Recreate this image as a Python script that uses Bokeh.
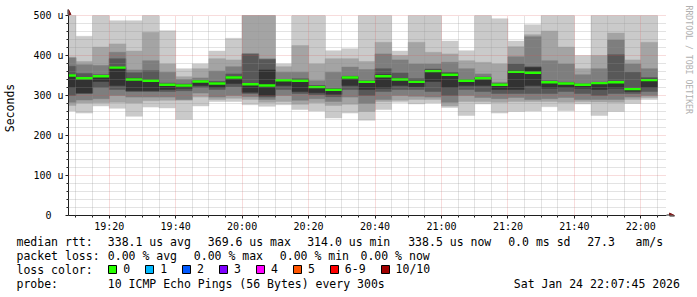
from datetime import datetime
from math import pi

from bokeh.plotting import figure
from bokeh.models import (Range1d, FixedTicker, DatetimeTickFormatter,
                          Label, Arrow, NormalHead, Legend, LegendItem, ColumnDataSource)
from bokeh.embed import file_html
from bokeh.resources import INLINE

# ---------------- data (microseconds) ----------------
slot_start = ["19:05", "19:10", "19:15", "19:20", "19:25", "19:30", "19:35", "19:40", "19:45",
              "19:50", "19:55", "20:00", "20:05", "20:10", "20:15", "20:20", "20:25", "20:30",
              "20:35", "20:40", "20:45", "20:50", "20:55", "21:00", "21:05", "21:10", "21:15",
              "21:20", "21:25", "21:30", "21:35", "21:40", "21:45", "21:50", "21:55", "22:00"]

# sorted ping round-trip times per 5-minute slot (ping1 = fastest ... ping10 = slowest)
ping1 = [261, 256, 274, 268, 248, 271, 269, 240, 274, 285, 285, 277, 273, 277, 265, 261, 244, 256,
         238, 265, 283, 279, 281, 270, 250, 279, 256, 260, 261, 272, 262, 279, 250, 260, 280, 290]
ping2 = [275, 281, 282, 283, 281, 287, 288, 288, 296, 290, 293, 290, 283, 285, 278, 282, 275, 278,
         260, 285, 288, 290, 290, 274, 285, 285, 283, 285, 285, 285, 283, 285, 284, 283, 290, 295]
ping3 = [283, 289, 292, 300, 296, 296, 296, 290, 306, 296, 300, 297, 290, 300, 288, 292, 285, 296,
         280, 290, 300, 298, 296, 283, 300, 295, 292, 295, 290, 292, 295, 290, 290, 290, 296, 300]
ping4 = [300, 305, 320, 315, 310, 310, 310, 312, 320, 315, 322, 305, 296, 315, 305, 302, 297, 315,
         300, 310, 315, 315, 310, 300, 315, 310, 305, 305, 305, 305, 310, 305, 300, 305, 305, 310]
ping5 = [320, 306, 335, 325, 312, 312, 315, 318, 325, 320, 330, 308, 300, 325, 310, 307, 303, 325,
         315, 318, 325, 322, 335, 320, 325, 325, 315, 315, 325, 318, 320, 318, 315, 318, 310, 320]
ping6 = [352, 345, 350, 370, 343, 340, 328, 327, 336, 333, 347, 330, 364, 339, 340, 323, 316, 346,
         335, 352, 342, 336, 363, 355, 338, 344, 328, 362, 370, 335, 331, 328, 332, 335, 318, 341]
ping7 = [373, 355, 352, 392, 357, 362, 331, 329, 337, 335, 354, 403, 390, 340, 342, 325, 317, 348,
         337, 367, 356, 342, 366, 358, 340, 346, 330, 379, 372, 337, 333, 329, 333, 402, 358, 345]
ping8 = [394, 377, 375, 408, 364, 387, 358, 340, 344, 361, 372, 405, 392, 358, 358, 337, 358, 371,
         365, 404, 389, 379, 379, 383, 367, 354, 333, 397, 447, 387, 379, 352, 367, 439, 379, 367]
ping9 = [396, 385, 421, 429, 411, 458, 379, 347, 367, 392, 389, 500, 500, 372, 425, 379, 392, 392,
         385, 433, 400, 433, 408, 404, 387, 383, 379, 422, 452, 461, 421, 367, 400, 456, 389, 433]
ping10 = [500, 448, 500, 487, 487, 500, 462, 367, 379, 411, 443, 500, 500, 379, 500, 500, 412, 417,
          500, 500, 411, 500, 500, 436, 412, 500, 492, 436, 477, 500, 500, 400, 500, 500, 500, 500]
median = [350, 343, 348, 369.6, 340, 337, 327, 325, 335, 330, 345, 328, 325, 338, 337, 321, 314.0, 345,
          334, 348, 340, 334, 361, 352, 337, 343, 327, 359, 357, 333, 330, 327, 331, 333, 316, 338.5]
loss = [0, 0, 0, 0, 0, 0, 0, 0, 0, 0, 0, 0, 0, 0, 0, 0, 0, 0,
        0, 0, 0, 0, 0, 0, 0, 0, 0, 0, 0, 0, 0, 0, 0, 0, 0, 0]

loss_labels = ["0", "1", "2", "3", "4", "5", "6-9", "10/10"]
loss_colors = ["#26ff00", "#00b8ff", "#0059ff", "#7e00ff", "#ff00ff", "#ff5500", "#ff0000", "#a10000"]

y_ticks = [0, 100, 200, 300, 400, 500]
y_minor = [20, 40, 60, 80, 120, 140, 160, 180, 220, 240, 260, 280, 320, 340, 360, 380,
           420, 440, 460, 480]
y_tick_labels = ["0\u00a0\u00a0", "100 u", "200 u", "300 u", "400 u", "500 u"]
x_major = ["19:20", "19:40", "20:00", "20:20", "20:40", "21:00", "21:20", "21:40", "22:00"]

# (vertical centre of line in px, [(left x in px, text), ...])
legend_lines = [
    (241, [(16, "median rtt:"), (107.3, "338.1 us avg"), (207.3, "369.6 us max"),
           (306.7, "314.0 us min"), (407.7, "338.5 us now"), (507.7, "0.0 ms sd"),
           (586.7, "27.3"), (635, "am/s")]),
    (255, [(16, "packet loss:"), (107.3, "0.00 % avg"), (193.3, "0.00 % max"),
           (279.3, "0.00 % min"), (360, "0.00 % now")]),
    (269, [(16, "loss color:")]),
    (283.5, [(16, "probe:"), (107.3, "10 ICMP Echo Pings (56 Bytes) every 300s"),
             (513.3, "Sat Jan 24 22:07:45 2026")]),
]

# ---------------- helpers ----------------
def t(hhmm, sec=0):
    h, m = map(int, hhmm.split(":"))
    return (datetime(2026, 1, 24, h, m, sec) - datetime(1970, 1, 1)).total_seconds() * 1000.0

W = 697
H1, H2 = 235, 62          # chart part / statistics part
FL, FB = 66, 215          # frame left / bottom (px); frame reaches top and right edge
MS_PER_PX = 18000.0       # 3 hours over 600 px
U_PER_PX = 2.5            # 500 u over 200 px
X0, X1 = t("19:07", 45), t("22:07", 45)
STEP = 5 * 60 * 1000

def sx(px):
    return X0 + (px - FL) * MS_PER_PX

def sy(py):
    return (FB - py) * U_PER_PX

FONT = "DejaVu Sans Mono"
LEG_SIZE = "11.5px"

p = figure(width=W, height=H1, output_backend="svg", toolbar_location=None, title=None,
           x_range=Range1d(X0, sx(W)), y_range=Range1d(0, sy(0)),
           min_border_left=FL, min_border_right=0, min_border_top=0,
           min_border_bottom=H1 - FB)
p.outline_line_color = None
p.background_fill_color = "white"
p.border_fill_color = "white"

# ---------------- smoke ----------------
starts = [t(s) for s in slot_start]
ends = [v + STEP for v in starts]
pings = [ping1, ping2, ping3, ping4, ping5, ping6, ping7, ping8, ping9, ping10]
data = dict(left=[max(v, X0) for v in starts], right=ends)
for i, pv in enumerate(pings):
    data[f"p{i + 1}"] = pv
src = ColumnDataSource(data)

band_colors = ["#cacaca", "#a4a4a4", "#7e7e7e", "#585858", "#323232"]
for k in range(5):
    p.quad(left="left", right="right", bottom=f"p{k + 1}", top=f"p{10 - k}", source=src,
           fill_color=band_colors[k], line_color=band_colors[k], line_width=0.5)

# ---------------- median, coloured by loss ----------------
def bucket(l):
    if l <= 5:
        return l
    if l < 10:
        return 6
    return 7

MW = 3.0
for b, col in enumerate(loss_colors):
    idx = [i for i, l in enumerate(loss) if bucket(l) == b]
    if idx:
        ms = ColumnDataSource(dict(left=[max(starts[i], X0) for i in idx],
                                   right=[ends[i] for i in idx],
                                   bottom=[median[i] - MW for i in idx],
                                   top=[median[i] + MW for i in idx]))
        p.quad(left="left", right="right", bottom="bottom", top="top", source=ms,
               fill_color=col, line_color=None)

# ---------------- axes & grid ----------------
xt = FixedTicker(ticks=[t(s) for s in x_major],
                 minor_ticks=[v for v in ends if v not in [t(s) for s in x_major]])
yt = FixedTicker(ticks=y_ticks, minor_ticks=y_minor)
p.xaxis.ticker = xt
p.xgrid.ticker = xt
p.yaxis.ticker = yt
p.ygrid.ticker = yt
p.xaxis.bounds = (X0, X1)
p.yaxis.bounds = (0, 500)
p.xgrid.bounds = (X0, X1)
p.ygrid.bounds = (0, 500)
try:
    p.xgrid[0].cross_bounds = (0, 500)
    p.ygrid[0].cross_bounds = (X0, X1)
except Exception:
    pass
p.xaxis.formatter = DatetimeTickFormatter(minsec="%H:%M", minutes="%H:%M", hourmin="%H:%M",
                                          hours="%H:%M")
p.yaxis.major_label_overrides = dict(zip(y_ticks, y_tick_labels))
p.yaxis.axis_label = "Seconds"

for ax in (p.xaxis[0], p.yaxis[0]):
    ax.axis_line_color = "#1f1f1f"
    ax.major_tick_line_color = "#1f1f1f"
    ax.minor_tick_line_color = "#1f1f1f"
    ax.major_tick_out = 3
    ax.major_tick_in = 0
    ax.minor_tick_out = 2
    ax.minor_tick_in = 0
    ax.major_label_text_font = FONT
    ax.major_label_text_font_size = "10px"
    ax.major_label_text_color = "black"
    ax.axis_label_text_font = FONT
    ax.axis_label_text_font_size = LEG_SIZE
    ax.axis_label_text_font_style = "normal"
    ax.axis_label_text_color = "black"
p.xaxis.major_label_standoff = 2
p.yaxis.major_label_standoff = 2
p.yaxis.axis_label_standoff = 13

for g in (p.xgrid[0], p.ygrid[0]):
    g.level = "guide"
    g.grid_line_color = "#de4f4f"
    g.grid_line_alpha = 0.4
    g.grid_line_dash = "1 1"
    g.grid_line_width = 1
    g.minor_grid_line_color = "#8f8f8f"
    g.minor_grid_line_alpha = 0.5
    g.minor_grid_line_dash = "1 1"
    g.minor_grid_line_width = 1

head = dict(size=5, fill_color="#801f1f", line_color="#801f1f", line_width=1)
p.add_layout(Arrow(end=NormalHead(**head), x_start=X0, y_start=500, x_end=X0, y_end=sy(9),
                   line_color="#1f1f1f", line_width=2))
p.add_layout(Arrow(end=NormalHead(**head), x_start=X1, y_start=0, x_end=sx(674), y_end=0,
                   line_color="#1f1f1f", line_width=2))

p.add_layout(Label(x=sx(688), y=sy(5), text="RRDTOOL / TOBI OETIKER", angle=-pi / 2,
                   text_align="left", text_baseline="middle", text_font=FONT,
                   text_font_size="8.2px", text_color="#b0b0b0"))

# ---------------- statistics / legend block (second root, pixel coordinates) ----------------
q = figure(width=W, height=H2, output_backend="svg", toolbar_location=None, title=None,
           x_range=Range1d(0, W), y_range=Range1d(H1 + H2, H1),
           min_border_left=0, min_border_right=0, min_border_top=0, min_border_bottom=0)
q.xaxis.visible = False
q.yaxis.visible = False
q.xgrid.visible = False
q.ygrid.visible = False
q.outline_line_color = None
q.background_fill_color = "white"
q.border_fill_color = "white"

for yc, parts in legend_lines:
    for px, txt in parts:
        q.add_layout(Label(x=px, y=yc, text=txt, text_align="left",
                           text_baseline="middle", text_font=FONT,
                           text_font_size=LEG_SIZE, text_color="black"))

items = []
for lab, col in zip(loss_labels, loss_colors):
    # one off-screen point per swatch so that the legend glyph is drawn
    sw = q.scatter(x=[-1000], y=[-1000], marker="square", size=8, fill_color=col,
                   line_color="black", line_width=1)
    items.append(LegendItem(label=lab, renderers=[sw]))

leg = Legend(items=items, orientation="horizontal", location=(102.2, H1 + H2 - 279),
             glyph_width=20, glyph_height=20, label_height=20, label_width=1,
             label_standoff=1, spacing=9, padding=0, margin=0, border_line_color=None,
             background_fill_alpha=0, label_text_font=FONT, label_text_font_size=LEG_SIZE,
             label_text_color="black")
q.add_layout(leg)

open("out.html", "w").write(file_html([p, q], INLINE))
